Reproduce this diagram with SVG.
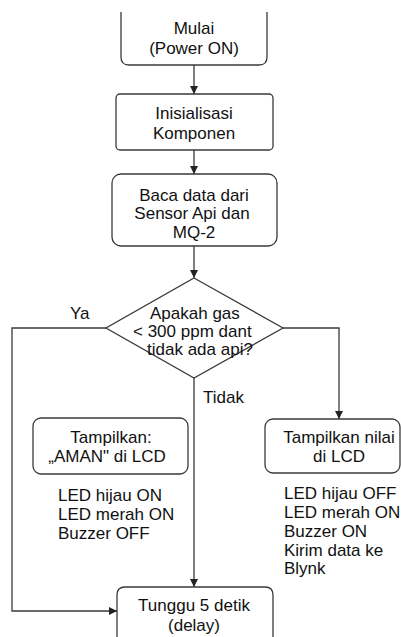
<svg xmlns="http://www.w3.org/2000/svg" width="401" height="637" viewBox="0 0 401 637">
<style>
.box{fill:#fff;stroke:#3a3a3a;stroke-width:1.3}
.ln{fill:none;stroke:#3a3a3a;stroke-width:1.3}
text{font-family:"Liberation Sans",Arial,sans-serif;font-size:17px;fill:#111}
.c{text-anchor:middle}
</style>
<defs>
<marker id="ah" markerUnits="userSpaceOnUse" markerWidth="9" markerHeight="9" refX="8" refY="4" orient="auto">
<path d="M0,0 L8,4 L0,8 z" fill="#222"/>
</marker>
</defs>
<rect width="401" height="637" fill="#fff"/>
<g id="connectors">
<path class="ln" d="M194,65 V94" marker-end="url(#ah)"/>
<path class="ln" d="M194,150 V174" marker-end="url(#ah)"/>
<path class="ln" d="M194,246 V278" marker-end="url(#ah)"/>
<path class="ln" d="M106,328 H12 V611 H117" marker-end="url(#ah)"/>
<path class="ln" d="M283,328 H339 V419" marker-end="url(#ah)"/>
<path class="ln" d="M194,378 V587" marker-end="url(#ah)"/>
<text x="70" y="319">Ya</text>
<text x="203" y="403">Tidak</text>
</g>
<g id="mulai">
<path class="box" d="M121,12 V57 Q121,65 129,65 H259 Q267,65 267,57 V12"/>
<text class="c" x="194" y="34">Mulai</text>
<text class="c" x="194" y="54">(Power ON)</text>
</g>
<g id="inisialisasi">
<rect class="box" x="116" y="94" width="157" height="56" rx="4"/>
<text class="c" x="194" y="119">Inisialisasi</text>
<text class="c" x="194" y="139">Komponen</text>
</g>
<g id="baca">
<rect class="box" x="112" y="174" width="165" height="72" rx="9"/>
<text class="c" x="194" y="201">Baca data dari</text>
<text class="c" x="192" y="219">Sensor Api dan</text>
<text class="c" x="194" y="238">MQ-2</text>
</g>
<g id="keputusan">
<polygon class="box" points="194,278 283,328 194,378 106,328"/>
<text x="150" y="319">Apakah gas</text>
<text x="133" y="337">&lt; 300 ppm dant</text>
<text x="147" y="355">tidak ada api?</text>
</g>
<g id="aman">
<rect class="box" x="33" y="418" width="155" height="56" rx="8"/>
<text class="c" x="111" y="443">Tampilkan:</text>
<text class="c" x="107" y="462">„AMAN" di LCD</text>
<text x="58" y="501">LED hijau ON</text>
<text x="58" y="520">LED merah ON</text>
<text x="58" y="539">Buzzer OFF</text>
</g>
<g id="bahaya">
<rect class="box" x="265" y="419" width="135" height="54" rx="8"/>
<text class="c" x="339" y="443">Tampilkan nilai</text>
<text class="c" x="339" y="462">di LCD</text>
<text x="284" y="499">LED hijau OFF</text>
<text x="284" y="518">LED merah ON</text>
<text x="284" y="537">Buzzer ON</text>
<text x="284" y="556">Kirim data ke</text>
<text x="284" y="574">Blynk</text>
</g>
<g id="tunggu">
<path class="box" d="M117,640 V595 Q117,587 125,587 H265 Q273,587 273,595 V640"/>
<text class="c" x="194" y="611">Tunggu 5 detik</text>
<text class="c" x="194" y="631">(delay)</text>
</g>
</svg>
